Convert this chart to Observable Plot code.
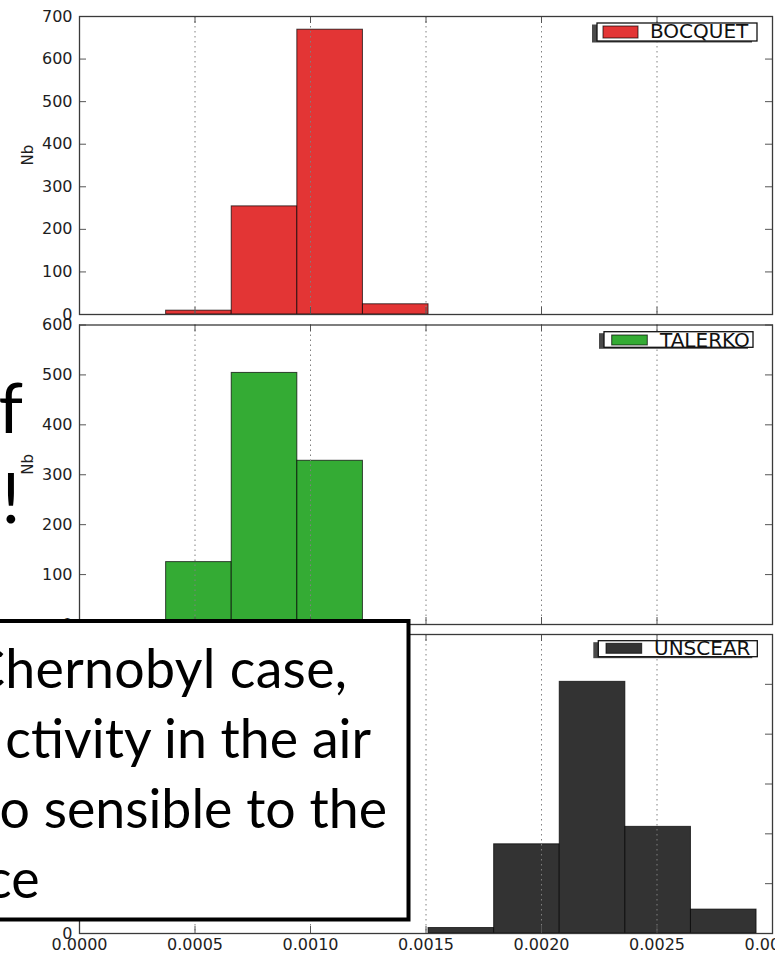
<!DOCTYPE html>
<html>
<head>
<meta charset="utf-8">
<script src="https://cdn.jsdelivr.net/npm/d3@7"></script>
<script src="https://cdn.jsdelivr.net/npm/@observablehq/plot@0.6"></script>
<style>
  html, body { margin: 0; padding: 0; background: #fff; }
  #stage { position: relative; width: 775px; height: 956px; overflow: hidden; background: #fff; }
  #stage svg.panel { position: absolute; left: 0; }
  #overlay { position: absolute; left: 0; top: 0; }
</style>
</head>
<body>
<div id="stage"></div>
<script>
// Histogram bin edges (activity), shared by all three runs
const binEdges = [0.000375, 0.000659, 0.000943, 0.001227, 0.001511, 0.001795, 0.002079, 0.002363, 0.002647, 0.002931];

// Counts per bin for each source term
const seriesNames = ["BOCQUET", "TALERKO", "UNSCEAR"];
const bocquetCounts = [9, 254, 669, 24];          // bins 0..3
const talerkoCounts = [125, 504, 328];            // bins 0..2
const unscearCounts = [11, 179, 505, 214, 48];    // bins 4..8
const firstBin = [0, 0, 4];

// Axis ticks
const xTicks = [0, 0.0005, 0.0010, 0.0015, 0.0020, 0.0025, 0.0030];
const yTicksTop = [0, 100, 200, 300, 400, 500, 600, 700];
const yTicks = [0, 100, 200, 300, 400, 500, 600];
const yLabel = "Nb";

// Slide text lying over and behind the figure
const noteLines = ["Chernobyl case,", "ctivity in the air", "o sensible to the", "ce"];
const titleFragments = ["f", "!"];

// ---- styling / layout ----
const colors = ["#e33535", "#34ab34", "#333333"];
const W = 775, ML = 79, MR = 3, frameW = W - ML - MR, tickLen = 7;
const stage = document.getElementById("stage");

function panel(counts, first, color, yMax, ticks, top, height, marginTop, marginBottom, showX) {
  const bars = counts.map((n, i) => ({x1: binEdges[first + i], x2: binEdges[first + i + 1], n}));
  const frameH = height - marginTop - marginBottom;
  const svg = Plot.plot({
    width: W, height, marginLeft: ML, marginRight: MR, marginTop, marginBottom,
    style: {background: "none", fontFamily: "'DejaVu Sans', sans-serif", fontSize: "16px", color: "#1e1e1e", overflow: "visible"},
    x: {domain: [0, 0.003], ticks: xTicks, tickFormat: d3.format(".4f"), tickSize: 0, tickPadding: 5, label: null, axis: showX ? "bottom" : null},
    y: {domain: [0, yMax], ticks, tickSize: 0, tickPadding: 7, label: null},
    marks: [
      Plot.rect(bars, {x1: "x1", x2: "x2", y1: 0, y2: "n", fill: color, stroke: "#000", strokeOpacity: 0.7, strokeWidth: 1}),
      Plot.ruleX(xTicks.slice(1, -1), {x: d => d, stroke: "#808080", strokeDasharray: "1.5,3.5", strokeWidth: 1}),
      Plot.tickY(ticks, {y: d => d, insetRight: frameW - tickLen, stroke: "#555"}),
      Plot.tickY(ticks, {y: d => d, insetLeft: frameW - tickLen, stroke: "#555"}),
      Plot.tickX(xTicks, {x: d => d, insetTop: frameH - tickLen, stroke: "#555"}),
      Plot.tickX(xTicks, {x: d => d, insetBottom: frameH - tickLen, stroke: "#555"}),
      Plot.frame({stroke: "#3a3a3a", strokeWidth: 1.3}),
      Plot.text([yLabel], {text: d => d, frameAnchor: "left", dx: -51, rotate: -90, fontSize: 15, fill: "#1e1e1e"})
    ]
  });
  svg.classList.add("panel");
  svg.style.top = top + "px";
  stage.appendChild(svg);
}

panel(bocquetCounts, firstBin[0], colors[0], 700, yTicksTop, 0, 330, 16, 16, false);
panel(talerkoCounts, firstBin[1], colors[1], 600, yTicks, 310, 330, 14.5, 16, false);
panel(unscearCounts, firstBin[2], colors[2], 600, yTicks, 620, 336, 14, 23, true);

// ---- overlay: legends, note box, slide text ----
const overlay = d3.select(stage).append("svg")
  .attr("id", "overlay").attr("width", W).attr("height", 956);

const legends = [
  {box: [597, 23, 160, 18], sw: [603, 26, 35, 12], tx: 650, ty: 37.5},
  {box: [604, 331.7, 149, 15.6], sw: [611.7, 335, 35.6, 10], tx: 660, ty: 346.5},
  {box: [598.3, 640.7, 159, 16], sw: [606, 643.3, 35.7, 10], tx: 654, ty: 655}
];
legends.forEach((L, i) => {
  const [x, y, w, h] = L.box;
  const g = overlay.append("g");
  g.append("rect").attr("x", x - 5).attr("y", y + 1.5).attr("width", w).attr("height", h).attr("fill", "#4a4a4a");
  g.append("rect").attr("x", x).attr("y", y).attr("width", w).attr("height", h)
    .attr("fill", "#fff").attr("stroke", "#111").attr("stroke-width", 1.3);
  const [sx, sy, sw, sh] = L.sw;
  g.append("rect").attr("x", sx).attr("y", sy).attr("width", sw).attr("height", sh)
    .attr("fill", colors[i]).attr("stroke", "#000").attr("stroke-opacity", 0.7);
  g.append("text").attr("x", L.tx).attr("y", L.ty).text(seriesNames[i])
    .attr("font-family", "'DejaVu Sans', sans-serif").attr("font-size", 20).attr("fill", "#111");
});

// Slide font size fitted to the width of the second note line
const ctx = document.createElement("canvas").getContext("2d");
ctx.font = "100px Lato";
const noteSize = 100 * 367 / ctx.measureText(noteLines[1]).width;
ctx.font = noteSize + "px Lato";
// first line: the "h" starts just inside the left edge, the "C" before it is cut off
const firstLineLength = (347 - 5) + ctx.measureText(noteLines[0][0]).width;

overlay.append("rect").attr("x", -10).attr("y", 621).attr("width", 418.5).attr("height", 298.5)
  .attr("fill", "#fff").attr("stroke", "#000").attr("stroke-width", 4);

const noteEnds = [347, 371, 387, 39.5];
const noteBase = [688, 758, 828, 898];
noteLines.forEach((s, i) => {
  const t = overlay.append("text").attr("x", noteEnds[i]).attr("y", noteBase[i]).attr("text-anchor", "end")
    .attr("font-family", "Lato, sans-serif").attr("font-size", noteSize).attr("fill", "#000").text(s);
  if (i === 0) t.attr("textLength", firstLineLength).attr("lengthAdjust", "spacing");
});

overlay.append("text").attr("x", 23).attr("y", 433).attr("text-anchor", "end")
  .attr("font-family", "Lato, sans-serif").attr("font-size", 70).attr("fill", "#000").text(titleFragments[0]);
overlay.append("text").attr("x", 11).attr("y", 523).attr("text-anchor", "middle")
  .attr("font-family", "Lato, sans-serif").attr("font-size", 70).attr("fill", "#000").text(titleFragments[1]);
</script>
</body>
</html>
